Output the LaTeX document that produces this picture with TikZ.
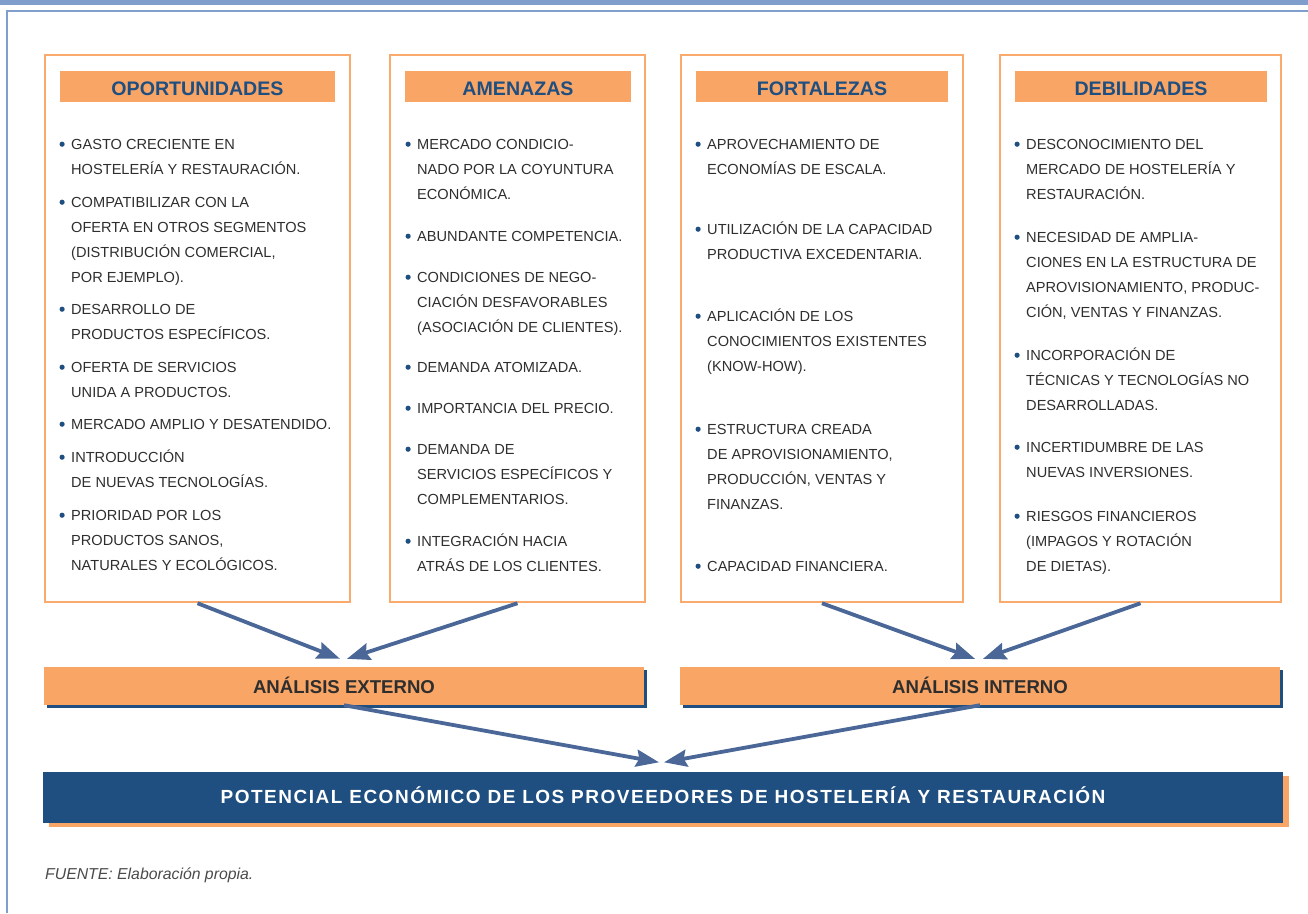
\documentclass[tikz,border=0pt]{standalone}
\usepackage{fontspec}
\setmainfont{Liberation Sans}
\usetikzlibrary{arrows.meta,shadows}

\definecolor{naranja}{HTML}{F8A566}
\definecolor{naranjaborde}{HTML}{F9AA6C}
\definecolor{azul}{HTML}{1F4F80}
\definecolor{azulflecha}{HTML}{4A6797}
\definecolor{marco}{HTML}{7F9ECC}
\definecolor{texto}{HTML}{2E2E2E}
\definecolor{fuentegris}{HTML}{4A4A4A}

\tikzset{
  caja/.style={draw=naranjaborde, line width=2.5pt, minimum height=547pt, inner sep=0pt},
  titulo/.style={fill=naranja, minimum height=31pt, inner sep=0pt, text=azul,
    text height=18.4pt, text depth=0pt, font=\fontsize{19.6}{20}\selectfont\bfseries},
  punto/.style={anchor=north west, align=left, inner sep=0pt, text=texto,
    font=\fontsize{14.6}{25}\selectfont},
  analisis/.style={fill=naranja, minimum width=600pt, minimum height=38pt, inner sep=0pt,
    text=texto, text height=14.6pt, text depth=0pt, font=\fontsize{18.6}{20}\selectfont\bfseries,
    general shadow={fill=azul, shadow xshift=2.5pt, shadow yshift=-2.5pt}},
  flecha/.style={draw=azulflecha, line width=3.8pt,
    -{Stealth[length=23pt,width=17pt,inset=3pt]}},
}
% round bullet hanging left of the first line, plus a strut so every
% item has the same height above its first baseline
\newcommand{\bala}{\rule{0pt}{15pt}\llap{\tikz[baseline=0pt]\fill[azul] (0pt,5pt) circle[radius=2.6pt];\hspace{6.5pt}}}

\begin{document}
\begin{tikzpicture}[x=1pt, y=-1pt]
  \useasboundingbox (0,0) rectangle (1308,913);

  % page frame
  \fill[marco] (0,0) rectangle (1308,5);
  \draw[marco, line width=2pt] (7,913) -- (7,11) -- (1308,11);

  % the four boxes
  \node[caja, minimum width=305pt] (oport) at (197.5,328.5) {};
  \node[caja, minimum width=255pt] (amen) at (517.5,328.5) {};
  \node[caja, minimum width=282pt] (fort) at (822,328.5) {};
  \node[caja, minimum width=281pt] (debil) at (1140.5,328.5) {};

  \node[titulo, minimum width=275pt] (toport) at (197.5,86.5) {OPORTUNIDADES};
  \node[titulo, minimum width=226pt] (tamen) at (518,86.5) {AMENAZAS};
  \node[titulo, minimum width=252pt] (tfort) at (822,86.5) {FORTALEZAS};
  \node[titulo, minimum width=252pt] (tdebil) at (1141,86.5) {DEBILIDADES};

  % oportunidades
  \node[punto] (o1) at (71,134) {\bala GASTO CRECIENTE EN\\HOSTELERÍA Y RESTAURACIÓN.};
  \node[punto] (o2) at (71,192) {\bala COMPATIBILIZAR CON LA\\OFERTA EN OTROS SEGMENTOS\\(DISTRIBUCIÓN COMERCIAL,\\POR EJEMPLO).};
  \node[punto] (o3) at (71,299) {\bala DESARROLLO DE\\PRODUCTOS ESPECÍFICOS.};
  \node[punto] (o4) at (71,357) {\bala OFERTA DE SERVICIOS\\UNIDA A PRODUCTOS.};
  \node[punto] (o5) at (71,414) {\bala MERCADO AMPLIO Y DESATENDIDO.};
  \node[punto] (o6) at (71,447) {\bala INTRODUCCIÓN\\DE NUEVAS TECNOLOGÍAS.};
  \node[punto] (o7) at (71,505) {\bala PRIORIDAD POR LOS\\PRODUCTOS SANOS,\\NATURALES Y ECOLÓGICOS.};

  % amenazas
  \node[punto] (a1) at (417,134) {\bala MERCADO CONDICIO-\\NADO POR LA COYUNTURA\\ECONÓMICA.};
  \node[punto] (a2) at (417,226) {\bala ABUNDANTE COMPETENCIA.};
  \node[punto] (a3) at (417,267) {\bala CONDICIONES DE NEGO-\\CIACIÓN DESFAVORABLES\\(ASOCIACIÓN DE CLIENTES).};
  \node[punto] (a4) at (417,357) {\bala DEMANDA ATOMIZADA.};
  \node[punto] (a5) at (417,398) {\bala IMPORTANCIA DEL PRECIO.};
  \node[punto] (a6) at (417,439) {\bala DEMANDA DE\\SERVICIOS ESPECÍFICOS Y\\COMPLEMENTARIOS.};
  \node[punto] (a7) at (417,531) {\bala INTEGRACIÓN HACIA\\ATRÁS DE LOS CLIENTES.};

  % fortalezas
  \node[punto] (f1) at (707,134) {\bala APROVECHAMIENTO DE\\ECONOMÍAS DE ESCALA.};
  \node[punto] (f2) at (707,219) {\bala UTILIZACIÓN DE LA CAPACIDAD\\PRODUCTIVA EXCEDENTARIA.};
  \node[punto] (f3) at (707,306) {\bala APLICACIÓN DE LOS\\CONOCIMIENTOS EXISTENTES\\(KNOW-HOW).};
  \node[punto] (f4) at (707,419) {\bala ESTRUCTURA CREADA\\DE APROVISIONAMIENTO,\\PRODUCCIÓN, VENTAS Y\\FINANZAS.};
  \node[punto] (f5) at (707,556) {\bala CAPACIDAD FINANCIERA.};

  % debilidades
  \node[punto] (d1) at (1026,134) {\bala DESCONOCIMIENTO DEL\\MERCADO DE HOSTELERÍA Y\\RESTAURACIÓN.};
  \node[punto] (d2) at (1026,227) {\bala NECESIDAD DE AMPLIA-\\CIONES EN LA ESTRUCTURA DE\\APROVISIONAMIENTO, PRODUC-\\CIÓN, VENTAS Y FINANZAS.};
  \node[punto] (d3) at (1026,345) {\bala INCORPORACIÓN DE\\TÉCNICAS Y TECNOLOGÍAS NO\\DESARROLLADAS.};
  \node[punto] (d4) at (1026,437) {\bala INCERTIDUMBRE DE LAS\\NUEVAS INVERSIONES.};
  \node[punto] (d5) at (1026,506) {\bala RIESGOS FINANCIEROS\\(IMPAGOS Y ROTACIÓN\\DE DIETAS).};

  % analysis bars
  \node[analisis] (externo) at (344,686) {ANÁLISIS EXTERNO};
  \node[analisis] (interno) at (980,686) {ANÁLISIS INTERNO};
  \node[fill=azul, minimum width=1240pt, minimum height=51pt, inner sep=0pt, text=white,
    text height=13.4pt, text depth=0pt,
    font=\fontsize{19}{20}\selectfont\bfseries\addfontfeature{LetterSpace=8},
    general shadow={fill=naranja, shadow xshift=6pt, shadow yshift=-4pt}]
    (potencial) at (663,797) {POTENCIAL ECONÓMICO DE LOS PROVEEDORES DE HOSTELERÍA Y RESTAURACIÓN};

  \draw[flecha] (oport.south) -- ([xshift=-4pt,yshift=8pt]externo.north);
  \draw[flecha] (amen.south) -- ([xshift=3pt,yshift=8pt]externo.north);
  \draw[flecha] (fort.south) -- ([xshift=-5pt,yshift=8pt]interno.north);
  \draw[flecha] (debil.south) -- ([xshift=3pt,yshift=8pt]interno.north);
  \draw[flecha] (externo.south) -- ([xshift=-4pt,yshift=9pt]potencial.north);
  \draw[flecha] (interno.south) -- ([xshift=1pt,yshift=9pt]potencial.north);

  \node[anchor=base west, inner sep=0pt, text=fuentegris, font=\fontsize{15.8}{18}\selectfont\itshape]
    (fuente) at (45,879) {FUENTE: Elaboración propia.};
\end{tikzpicture}
\end{document}
